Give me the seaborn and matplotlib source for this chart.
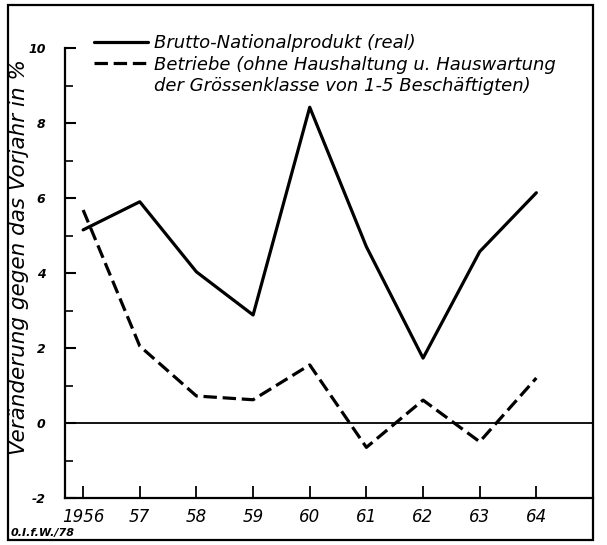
import numpy as np
import pandas as pd
import matplotlib
matplotlib.use("Agg")
import matplotlib.pyplot as plt
from matplotlib.lines import Line2D
from matplotlib.patches import Rectangle
import seaborn as sns

# values (change against previous year, %)
years = [1956, 1957, 1958, 1959, 1960, 1961, 1962, 1963, 1964]
year_labels = ["1956", "57", "58", "59", "60", "61", "62", "63", "64"]
bnp_real = [5.15, 5.9, 4.03, 2.88, 8.42, 4.7, 1.73, 4.57, 6.14]
betriebe = [5.68, 2.05, 0.72, 0.62, 1.55, -0.65, 0.61, -0.5, 1.2]

label_bnp = "Brutto-Nationalprodukt (real)"
label_betr_1 = "Betriebe (ohne Haushaltung u. Hauswartung"
label_betr_2 = "der Grössenklasse von 1-5 Beschäftigten)"
y_title = "Veränderung gegen das Vorjahr in %"
source_note = "0.I.f.W./78"

df = pd.DataFrame({"Jahr": years, "BNP": bnp_real, "Betriebe": betriebe})

sns.set_style("ticks")
plt.rcParams["font.family"] = ["DejaVu Sans"]
plt.rcParams["font.style"] = "italic"
plt.rcParams["text.color"] = "black"
plt.rcParams["xtick.color"] = "black"
plt.rcParams["ytick.color"] = "black"
plt.rcParams["axes.labelcolor"] = "black"
plt.rcParams["axes.edgecolor"] = "black"

fig = plt.figure(figsize=(6.07, 5.45), dpi=100)
ax = fig.add_axes([65 / 607, 1 - 498 / 545, 528 / 607, 450 / 545])

lw = 2.3
sns.lineplot(data=df, x="Jahr", y="BNP", color="black", linewidth=lw, ax=ax)
sns.lineplot(data=df, x="Jahr", y="Betriebe", color="black", linewidth=lw,
             ax=ax)
ax.lines[1].set_dashes((4.2, 1.8))
ax.axhline(0, color="black", linewidth=1.3)

ax.set_xlim(1955.68, 1965.0)
ax.set_ylim(-2, 10)
ax.set_xticks(years)
ax.set_xticklabels(year_labels, fontsize=12)
ax.set_yticks(np.arange(-2, 11, 2))
ax.set_yticklabels([str(v) for v in range(-2, 11, 2)], fontsize=9,
                   fontweight="bold")
ax.set_yticks(np.arange(-1, 10, 2), minor=True)
ax.tick_params(axis="x", direction="in", length=9, width=1.3, pad=7)
ax.tick_params(axis="y", which="major", direction="in", length=8, width=1.5,
               pad=14)
ax.tick_params(axis="y", which="minor", direction="in", length=6, width=1.2)
ax.set_xlabel("")
ax.set_ylabel(y_title, fontsize=15.5, va="center")
ax.yaxis.set_label_coords(-46 / 528, (498 - 257) / 450)

for side in ["top", "right"]:
    ax.spines[side].set_visible(False)
ax.spines["left"].set_linewidth(1.6)
ax.spines["bottom"].set_linewidth(1.6)

handles = [Line2D([], [], color="black", linewidth=lw),
           Line2D([], [], color="black", linewidth=lw, dashes=(4.2, 1.8)),
           Line2D([], [], color="none")]
fig.legend(handles, [label_bnp, label_betr_1, label_betr_2],
           loc="upper left", bbox_to_anchor=(94 / 607, 1 - 34 / 545),
           frameon=False, fontsize=13, handlelength=3.0, handletextpad=0.35,
           labelspacing=0.2, borderpad=0, borderaxespad=0)

fig.patches.append(Rectangle((8 / 607, 1 - 540 / 545), 585 / 607, 535 / 545,
                             transform=fig.transFigure, fill=False,
                             edgecolor="black", linewidth=1.6))
fig.text(11 / 607, 1 - 538 / 545, source_note, fontsize=8, fontweight="bold",
         ha="left", va="bottom")

fig.savefig("out.png", dpi=100)
